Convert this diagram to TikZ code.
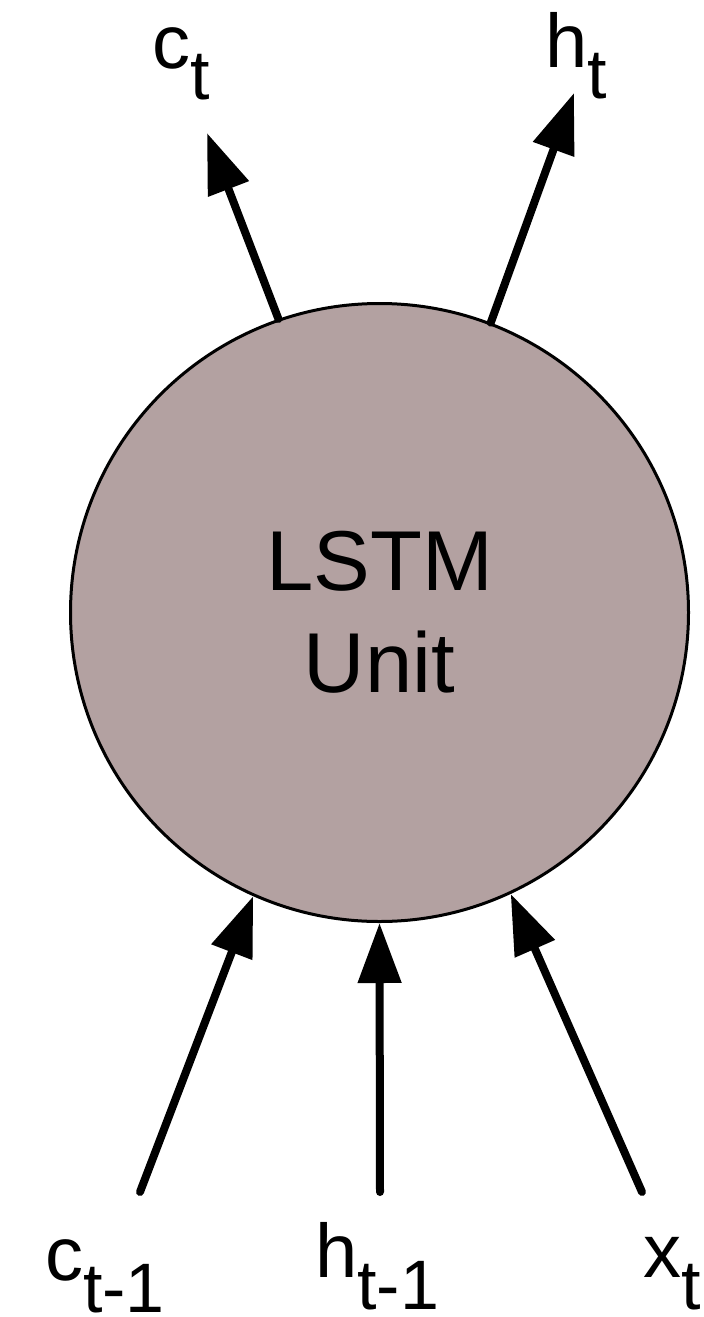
\documentclass[tikz,border=0pt]{standalone}
\usepackage{fontspec}
\setmainfont{Liberation Sans}
\usetikzlibrary{arrows.meta}
\definecolor{unitfill}{RGB}{179,161,161}
% label with a lowered subscript
\newcommand{\sublbl}[2]{#1\raisebox{-16pt}{\fontsize{35}{40}\selectfont #2}}
\begin{document}
\begin{tikzpicture}[x=0.5pt,y=-0.5pt,
  unit/.style={circle,draw=black,line width=1.5pt,fill=unitfill,
    minimum size=309pt,inner sep=0pt,align=center,
    font=\fontsize{42.5}{51}\selectfont},
  lbl/.style={anchor=base west,inner sep=0pt,outer sep=0pt,
    font=\fontsize{38}{44}\selectfont},
  flow/.style={line width=4pt,line cap=round,
    -{Triangle[length=30pt,width=21pt]}}]
\useasboundingbox (0,0) rectangle (703,1317);

% LSTM cell
\node[unit] (lstm) at (379.5,612.5) {LSTM\\Unit};

% inputs
\coordinate (cin) at (140,1192);
\coordinate (hin) at (380,1192);
\coordinate (xin) at (642,1192);
\node[lbl] (cprev) at (45,1280) {\sublbl{c}{t-1}};
\node[lbl] (hprev) at (315,1277) {\sublbl{h}{t-1}};
\node[lbl] (xcur) at (643,1277) {\sublbl{x}{t}};

% outputs
\coordinate (cout) at (207,133);
\coordinate (hout) at (574,93);
\node[lbl] (cnext) at (152,68) {\sublbl{c}{t}};
\node[lbl] (hnext) at (545,67) {\sublbl{h}{t}};

% connectors
\draw[flow] (cin) -- (lstm.246.9);
\draw[flow] (hin) -- (lstm.270);
\draw[flow] (xin) -- (lstm.295.4);
\draw[flow] (lstm.109.7) -- (cout);
\draw[flow] (lstm.69.5) -- (hout);
\end{tikzpicture}
\end{document}
